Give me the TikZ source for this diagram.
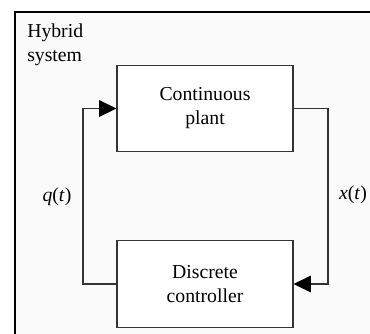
\documentclass[tikz,border=0pt]{standalone}
\usepackage{fontspec}
\setmainfont{Liberation Serif}
\usetikzlibrary{arrows.meta}
\begin{document}
\begin{tikzpicture}[x=0.75pt,y=-0.75pt,
  txt/.style={font=\fontsize{14.8}{18}\selectfont},
  block/.style={draw=black!80, line width=0.8pt, fill=white, minimum width=132pt,
    minimum height=65pt, align=center, inner sep=0pt, txt},
  link/.style={draw=black!80, line width=0.8pt},
  tip/.style={-{Triangle[length=13pt,width=12.5pt,color=black,fill=black]}}]
  \useasboundingbox (0,0) rectangle (370,333);
  % frame of the hybrid system (open to the right and bottom)
  \fill[black!2] (15,12) rectangle (390,350);
  \draw[line width=1.6pt] (15,350) -- (15,12) -- (390,12);
  \node[txt, anchor=north west, align=left, inner sep=0pt] (title) at (27,24) {Hybrid\\system};
  % the two blocks
  \node[block] (plant) at (205,108.5) {Continuous\\plant};
  \node[block] (ctrl) at (205,284) {Discrete\\controller};
  % feedback connectors
  \coordinate (r) at (328,0);
  \coordinate (l) at (83,0);
  \draw[link, tip] (plant.east) -- (plant.east -| r) -- (ctrl.east -| r) -- (ctrl.east);
  \draw[link, tip] (ctrl.west) -- (ctrl.west -| l) -- (plant.west -| l) -- (plant.west);
  % signal labels
  \node[txt] (q) at (57,197) {\textit{q}(\textit{t})};
  \node[txt] (x) at (353,195) {\textit{x}(\textit{t})};
\end{tikzpicture}
\end{document}
